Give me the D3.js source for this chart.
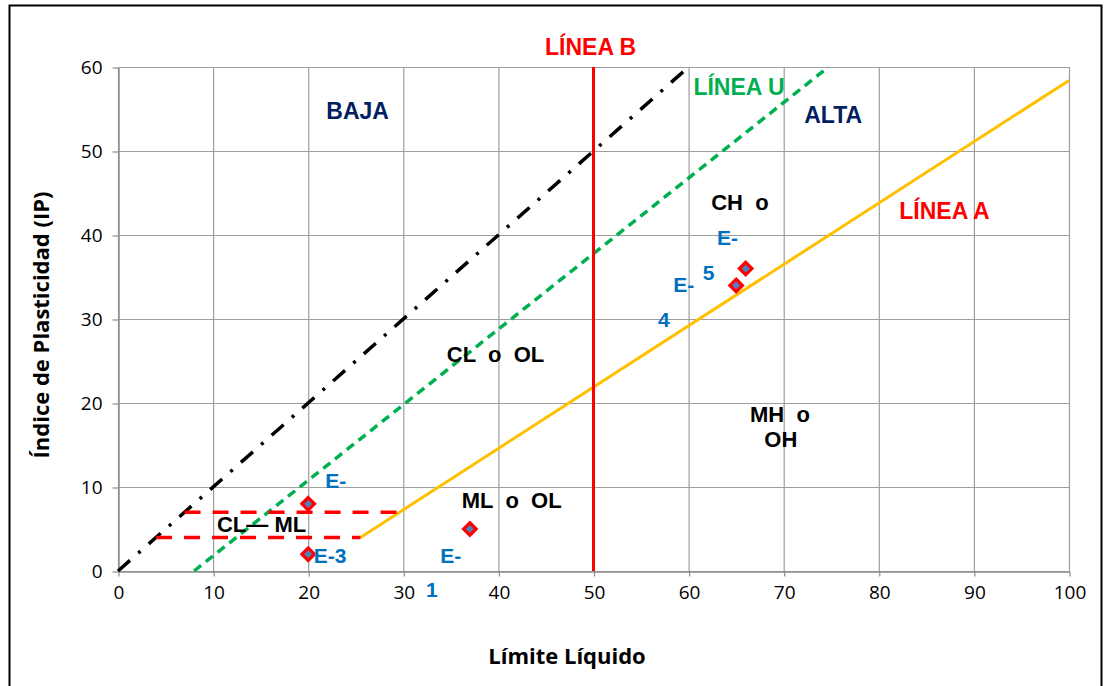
<!DOCTYPE html>
<html><head><meta charset="utf-8">
<script src="https://cdn.jsdelivr.net/npm/d3@7"></script>
<style>
body{margin:0;background:#fff;}
text{white-space:pre;}
</style></head>
<body><svg id="c" width="1106" height="686"></svg>
<script>
// ---- data ----
const xTicks = [0,10,20,30,40,50,60,70,80,90,100];
const yTicks = [0,10,20,30,40,50,60];
const pointLL = [20,20,37,65,66];
const pointIP = [8,2,5,34,36];
const lineA = [[25.5,4],[100,58.4]];
const lineU = [[8,0],[74.7,60]];
const lineB = [[50,0],[50,60]];
const lineDiag = [[0,0],[60,60]];
const clmlUpper = [[7,7],[30,7]];
const clmlLower = [[4,4],[25.5,4]];
const zoneLabels = [
  {t:"CL  o  OL", x:39.7, y:24.9},
  {t:"CH  o", x:65.4, y:43.0},
  {t:"MH  o", x:69.6, y:17.7},
  {t:"OH", x:69.7, y:14.8},
  {t:"ML  o  OL", x:41.4, y:7.5},
  {t:"CL— ML", x:15.1, y:4.7}
];
const rangeLabels = [{t:"BAJA",x:25.2,y:53.8},{t:"ALTA",x:75.2,y:53.3}];
const lineLabels = [
  {t:"LÍNEA B", x:49.7, y:61.4, c:"#FF0000"},
  {t:"LÍNEA U", x:65.3, y:56.7, c:"#00B050"},
  {t:"LÍNEA A", x:86.9, y:41.9, c:"#FF0000"}
];
const sampleLabels = [
  {t:"E-", x:22.9, y:9.9},
  {t:"E-3", x:22.3, y:1.0},
  {t:"E-", x:35.0, y:1.0},
  {t:"1", x:33.0, y:-3.1},
  {t:"E-", x:64.1, y:38.8},
  {t:"5", x:62.1, y:34.7},
  {t:"E-", x:59.5, y:33.2},
  {t:"4", x:57.4, y:29.0}
];

// ---- chart ----
const svg = d3.select("#c");
svg.append("rect").attr("x",9.5).attr("y",5.5).attr("width",1092).attr("height",700)
  .attr("fill","#fff").attr("stroke","#000").attr("stroke-width",2);

const x = d3.scaleLinear().domain([0,100]).range([118,1069]);
const y = d3.scaleLinear().domain([0,60]).range([571,67]);

// gridlines
const g = svg.append("g");
g.selectAll(".vg").data(xTicks).join("line")
  .attr("x1",d=>x(d)+0.5).attr("x2",d=>x(d)+0.5).attr("y1",y(0)).attr("y2",y(60))
  .attr("stroke","#9e9e9e").attr("stroke-width",1.2);
g.selectAll(".hg").data(yTicks).join("line")
  .attr("x1",x(0)).attr("x2",x(100)).attr("y1",d=>y(d)+0.5).attr("y2",d=>y(d)+0.5)
  .attr("stroke","#9e9e9e").attr("stroke-width",1.2);

// axes
const xAxis = svg.append("g").attr("transform",`translate(0.5,${y(0)+0.5})`)
  .call(d3.axisBottom(x).tickValues(xTicks).tickSize(5).tickPadding(9).tickSizeOuter(0));
const yAxis = svg.append("g").attr("transform",`translate(${x(0)+0.5},0.5)`)
  .call(d3.axisLeft(y).tickValues(yTicks).tickSize(6).tickPadding(10).tickSizeOuter(0));
[xAxis,yAxis].forEach(a=>{
  a.select(".domain").attr("stroke","#8c8c8c").attr("stroke-width",1.5);
  a.selectAll(".tick line").attr("stroke","#8c8c8c").attr("stroke-width",1.2);
  a.selectAll("text").attr("font-family","'Open Sans', sans-serif").attr("font-size",19).attr("fill","#000");
});

const line = d3.line().x(d=>x(d[0])).y(d=>y(d[1]));
// lines
svg.append("path").datum(lineA).attr("d",line).attr("stroke","#FFC000").attr("stroke-width",3).attr("fill","none");
svg.append("path").datum(lineDiag).attr("d",line).attr("stroke","#000").attr("stroke-width",3.5)
  .attr("stroke-dasharray","16,11,3,11").attr("fill","none");
svg.append("path").datum(lineU).attr("d",line).attr("stroke","#00B050").attr("stroke-width",3.5)
  .attr("stroke-dasharray","9,6").attr("fill","none");
[clmlUpper,clmlLower].forEach(l=>{
  svg.append("path").datum(l).attr("d",line).attr("stroke","#FF0000").attr("stroke-width",3.5)
    .attr("stroke-dasharray","16,12").attr("fill","none");
});
svg.append("path").datum(lineB).attr("d",line).attr("stroke","#FF0000").attr("stroke-width",3).attr("fill","none");

// points
const sym = d3.symbol().type(d3.symbolDiamond2).size(100);
svg.selectAll(".pt").data(pointLL.map((v,i)=>[v,pointIP[i]])).join("path")
  .attr("transform",d=>`translate(${x(d[0])},${y(d[1])})`)
  .attr("d",sym).attr("fill","#4F81BD").attr("stroke","#FF0000").attr("stroke-width",3.2);

// labels
const af = "Arial, 'Liberation Sans', sans-serif";
svg.selectAll(".zl").data(zoneLabels).join("text")
  .attr("x",d=>x(d.x)).attr("y",d=>y(d.y)).attr("text-anchor","middle")
  .attr("font-family",af).attr("font-weight","bold").attr("font-size",22).attr("fill","#000").text(d=>d.t);
svg.selectAll(".rl").data(rangeLabels).join("text")
  .attr("x",d=>x(d.x)).attr("y",d=>y(d.y)).attr("text-anchor","middle")
  .attr("font-family",af).attr("font-weight","bold").attr("font-size",23).attr("fill","#002060").text(d=>d.t);
svg.selectAll(".ll").data(lineLabels).join("text")
  .attr("x",d=>x(d.x)).attr("y",d=>y(d.y)).attr("text-anchor","middle")
  .attr("font-family",af).attr("font-weight","bold").attr("font-size",23).attr("fill",d=>d.c).text(d=>d.t);
svg.selectAll(".sl").data(sampleLabels).join("text")
  .attr("x",d=>x(d.x)).attr("y",d=>y(d.y)).attr("text-anchor","middle")
  .attr("font-family",af).attr("font-weight","bold").attr("font-size",21).attr("fill","#0070C0").text(d=>d.t);

// axis titles
svg.append("text").attr("x",567).attr("y",664).attr("text-anchor","middle")
  .attr("font-family","'Open Sans', sans-serif").attr("font-weight","bold").attr("font-size",22)
  .text("Límite Líquido");
svg.append("text").attr("transform","translate(49,325) rotate(-90)").attr("text-anchor","middle")
  .attr("font-family","'Open Sans', sans-serif").attr("font-weight","bold").attr("font-size",22)
  .text("Índice de Plasticidad (IP)");
</script></body></html>
